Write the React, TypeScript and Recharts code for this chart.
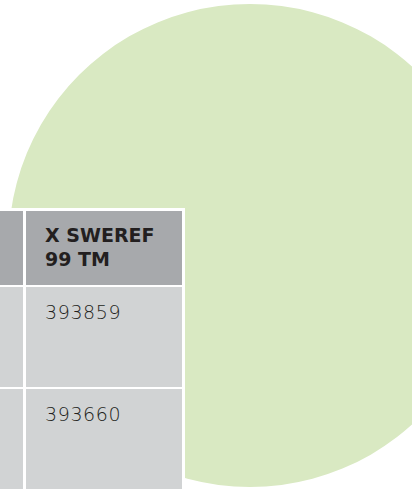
import { PieChart, Pie, Cell } from "recharts";

// the big background disc, one slice
const discData = [{ name: "area", value: 1 }];

// table contents (first column is cut off at the left edge)
const headers = ["", "X SWEREF 99 TM"];
const headerLines = [[""], ["X SWEREF", "99 TM"]];
const xSweref = [393859, 393660];

const GREEN = "#d9e9c2";
const HEAD_GREY = "#a7a9ac";
const CELL_GREY = "#d1d3d4";
const TEXT = "#231f20";

const colWidths = [23, 156];
const rowHeights = [74, 100, 100];

export default function App() {
  return (
    <div
      style={{
        position: "absolute",
        left: 0,
        top: 0,
        width: 413,
        height: 492,
        overflow: "hidden",
        background: "#ffffff",
      }}
    >
      <PieChart
        width={412}
        height={492}
        margin={{ top: 0, right: 0, bottom: 0, left: 0 }}
      >
        <Pie
          data={discData}
          dataKey="value"
          nameKey="name"
          cx={250}
          cy={245.5}
          innerRadius={0}
          outerRadius={241.5}
          startAngle={90}
          endAngle={450}
          stroke="none"
          isAnimationActive={false}
        >
          {discData.map((d) => (
            <Cell key={d.name} fill={GREEN} />
          ))}
        </Pie>
      </PieChart>

      <div
        style={{
          position: "absolute",
          left: 0,
          top: 208,
          width: 185,
          height: 284,
          background: "#ffffff",
          boxSizing: "border-box",
          padding: "3px 3px 3px 0",
          display: "grid",
          gridTemplateColumns: colWidths.map((w) => w + "px").join(" "),
          gridTemplateRows: rowHeights.map((h) => h + "px").join(" "),
          columnGap: 3,
          rowGap: 2,
          fontFamily: "'DejaVu Sans', sans-serif",
          color: TEXT,
        }}
      >
        {headers.map((h, i) => (
          <div
            key={"h" + i}
            title={h}
            style={{
              background: HEAD_GREY,
              padding: "12px 0 0 19px",
              fontSize: 19,
              fontWeight: 700,
              lineHeight: "24px",
              whiteSpace: "nowrap",
            }}
          >
            {headerLines[i].map((l, j) => (
              <div key={j}>{l}</div>
            ))}
          </div>
        ))}
        {xSweref.map((v) => [
          <div key={"a" + v} style={{ background: CELL_GREY }} />,
          <div
            key={"b" + v}
            style={{
              background: CELL_GREY,
              padding: "14px 0 0 19px",
              fontSize: 19,
              fontWeight: 300,
              letterSpacing: 0.6,
            }}
          >
            {v}
          </div>,
        ])}
      </div>
    </div>
  );
}
